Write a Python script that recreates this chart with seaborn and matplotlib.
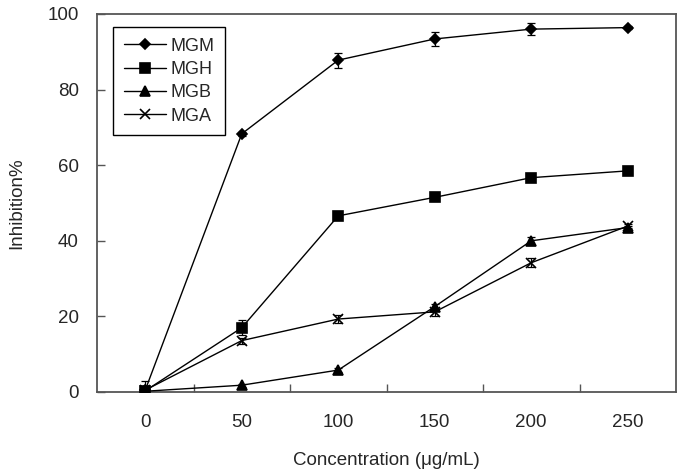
import matplotlib
matplotlib.use("Agg")
import matplotlib.pyplot as plt
import seaborn as sns
import numpy as np
from matplotlib.ticker import FixedLocator

# concentrations (category axis, Excel-style)
conc = ["0", "50", "100", "150", "200", "250"]

# inhibition % per extract
mgm = [0.5, 68.3, 87.8, 93.4, 96.0, 96.4]
mgh = [0.3, 17.0, 46.6, 51.5, 56.7, 58.5]
mgb = [0.2, 1.8, 5.8, 22.6, 40.0, 43.5]
mga = [0.5, 13.6, 19.3, 21.2, 34.2, 43.9]

# error bars (±)
mgm_err = [0.0, 0.5, 2.0, 1.8, 1.5, 0.3]
mgh_err = [0.0, 2.0, 0.6, 0.5, 0.4, 0.4]
mgb_err = [0.0, 0.4, 0.5, 0.8, 1.0, 0.5]
mga_err = [2.5, 0.8, 1.0, 1.0, 1.2, 0.5]

series = [("MGM", mgm, mgm_err, "D", 5.5),
          ("MGH", mgh, mgh_err, "s", 6.5),
          ("MGB", mgb, mgb_err, "^", 6.5),
          ("MGA", mga, mga_err, "x", 6.5)]

sns.set_theme(style="ticks")
plt.rcParams["font.family"] = ["Liberation Sans", "DejaVu Sans"]

fig = plt.figure(figsize=(6.78, 4.70), dpi=100)
ax = fig.add_axes([97 / 678, 78 / 470, 579 / 678, 378 / 470])

for name, vals, err, mk, ms in series:
    ax.errorbar(conc, vals, yerr=err, fmt="none", ecolor="black",
                elinewidth=0.9, capsize=3, capthick=0.9, zorder=2)
    sns.lineplot(x=conc, y=vals, sort=False, color="black", linewidth=1.0,
                 marker=mk, markersize=ms, markeredgecolor="black",
                 markerfacecolor="black", markeredgewidth=1.2,
                 label=name, ax=ax, zorder=3)

ax.set_xlim(-0.5, 5.5)
ax.set_ylim(0, 100)
ax.set_yticks([0, 20, 40, 60, 80, 100])
ax.xaxis.set_minor_locator(FixedLocator([0.5, 1.5, 2.5, 3.5, 4.5]))
ax.tick_params(axis="x", which="major", length=0, pad=16, labelsize=13.5)
ax.tick_params(axis="x", which="minor", direction="in", length=6,
               width=1, color="#555555")
ax.tick_params(axis="y", direction="in", length=6, width=1,
               color="#555555", pad=13, labelsize=13.5)

for sp in ax.spines.values():
    sp.set_visible(True)
    sp.set_color("#555555")
    sp.set_linewidth(1.3)

# label sits low near the figure edge like the original
ax.set_xlabel("Concentration (μg/mL)", fontsize=13.5, labelpad=15)
ax.set_ylabel("Inhibition%", fontsize=13.5, labelpad=16)

leg = ax.legend(loc="upper left", bbox_to_anchor=(0.028, 0.966),
                borderaxespad=0, fontsize=13, handlelength=2.35,
                labelspacing=0.35, fancybox=False, framealpha=1,
                edgecolor="black", borderpad=0.6, handletextpad=0.22)
leg.get_frame().set_linewidth(1.0)

fig.savefig("out.png", dpi=100)
